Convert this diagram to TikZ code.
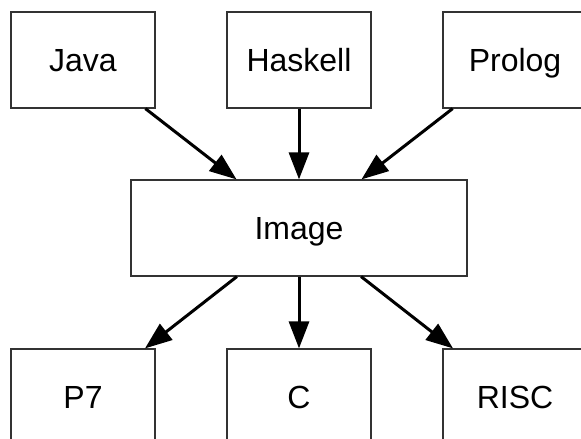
\documentclass[tikz,border=0pt]{standalone}
\usepackage{fontspec}
\setmainfont{Liberation Sans}
\usetikzlibrary{
  calc, % For coordinate calculations
  arrows.meta % For arrow tips
}

\begin{document}
\begin{tikzpicture}[
      x=1pt, y=-1pt, % Pixel units, y pointing down
      >={Triangle[length=27pt, width=20pt]}, % Default arrow tip
      box/.style={draw=black!80, line width=1.2pt, minimum width=144pt,
        minimum height=96pt, inner sep=0pt, text height=23pt,
        text depth=0pt, font=\fontsize{32}{38}\selectfont}, % Style for boxes
      flow/.style={->, line width=3pt}, % Style for arrows
    ]

    % Rahmen
    \useasboundingbox (0, 0) rectangle (581, 439);
    \clip (0, 0) rectangle (581, 439);

    % Größen
    \def\dx{216}
    \def\xm{299}
    \def\ya{60}
    \def\yb{228}
    \def\yc{397}

    % Koordinaten der Knoten
    \coordinate (T) at (\xm, \ya);
    \coordinate (M) at (\xm, \yb);
    \coordinate (B) at (\xm, \yc);

    % Quellen
    \node[box] (java) at ($(T) + (-\dx, 0)$) {Java};
    \node[box] (haskell) at (T) {Haskell};
    \node[box] (prolog) at ($(T) + (\dx, 0)$) {Prolog};

    % Mitte
    \node[box, minimum width=336pt] (image) at (M) {Image};

    % Ziele
    \node[box] (p7) at ($(B) + (-\dx, 0)$) {P7};
    \node[box] (c) at (B) {C};
    \node[box] (risc) at ($(B) + (\dx, 0)$) {RISC};

    % Pfeile
    \foreach \i in {java, haskell, prolog}
    \draw[flow] (\i) -- (image);
    \foreach \j in {p7, c, risc}
    \draw[flow] (image) -- (\j);

  \end{tikzpicture}
\end{document}
